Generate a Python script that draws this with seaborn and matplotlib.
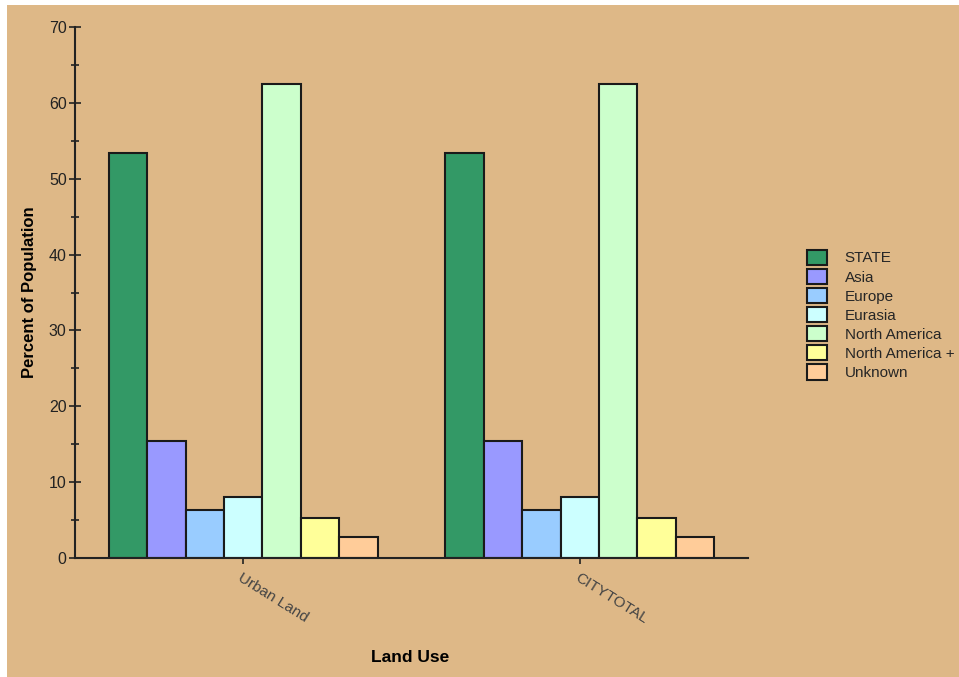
import matplotlib
matplotlib.use("Agg")
import matplotlib.pyplot as plt
from matplotlib.patches import Rectangle
from matplotlib.ticker import MultipleLocator
import seaborn as sns
import pandas as pd

land_use = ["Urban Land", "CITYTOTAL"]
origins = ["STATE", "Asia", "Europe", "Eurasia", "North America", "North America +", "Unknown"]
urban_land = [53.4, 15.4, 6.3, 8.0, 62.5, 5.3, 2.8]
city_total = [53.4, 15.4, 6.3, 8.0, 62.5, 5.3, 2.8]
colors = ["#339966", "#9999FF", "#99CCFF", "#CCFFFF", "#CCFFCC", "#FFFF99", "#FFCC99"]

df = pd.DataFrame({
    "Land Use": [land_use[0]] * len(origins) + [land_use[1]] * len(origins),
    "Origin": origins + origins,
    "Percent": urban_land + city_total,
})

sns.set_theme(style="ticks")
plt.rcParams["font.family"] = ["Liberation Sans", "DejaVu Sans"]

bg = "#DEB887"
fig = plt.figure(figsize=(9.59, 6.77), dpi=100, facecolor="white")
fig.patches.append(Rectangle((7 / 959, 0), 1, 1 - 5 / 677, transform=fig.transFigure,
                             facecolor=bg, edgecolor="none", zorder=-10))
ax = fig.add_axes([75 / 959, 1 - 558 / 677, (748 - 75) / 959, (558 - 27) / 677])
ax.set_facecolor(bg)

sns.barplot(data=df, x="Land Use", y="Percent", hue="Origin", order=land_use,
            hue_order=origins, palette=colors, width=0.8, gap=0,
            edgecolor="#1a1a1a", linewidth=1.5, saturation=1, ax=ax, legend=True)

ax.set_ylim(0, 70)
ax.set_xlim(-0.5, 1.5)
ax.yaxis.set_major_locator(MultipleLocator(10))
ax.yaxis.set_minor_locator(MultipleLocator(5))
ax.tick_params(axis="y", which="major", direction="inout", length=8, width=1.2,
               colors="#222222", labelsize=11.5, pad=2)
ax.tick_params(axis="y", which="minor", direction="inout", length=6, width=1.2, colors="#222222")
ax.tick_params(axis="x", direction="out", length=4, width=1.2, colors="#222222",
               labelsize=11, labelcolor="#444444", pad=5)
for lbl in ax.get_xticklabels():
    lbl.set_rotation(-32)
    lbl.set_ha("left")
    lbl.set_rotation_mode("anchor")

sns.despine(ax=ax)
for side in ("left", "bottom"):
    ax.spines[side].set_linewidth(1.5)
    ax.spines[side].set_color("#222222")

ax.set_ylabel("Percent of Population", fontsize=12, fontweight="bold", color="black")
ax.yaxis.set_label_coords(-0.056, 0.5)
ax.set_xlabel("Land Use", fontsize=12.5, fontweight="bold", color="black")
ax.xaxis.set_label_coords(0.498, -0.174)

leg = ax.get_legend()
handles = leg.legend_handles
leg.remove()
fig.legend(handles, origins, loc="upper left", bbox_to_anchor=(799 / 959, 1 - 242 / 677),
           frameon=False, fontsize=11, handlelength=1.3, handleheight=1.15,
           handletextpad=1.2, labelspacing=0.22, borderpad=0)

fig.savefig("out.png", dpi=100, facecolor="white")
